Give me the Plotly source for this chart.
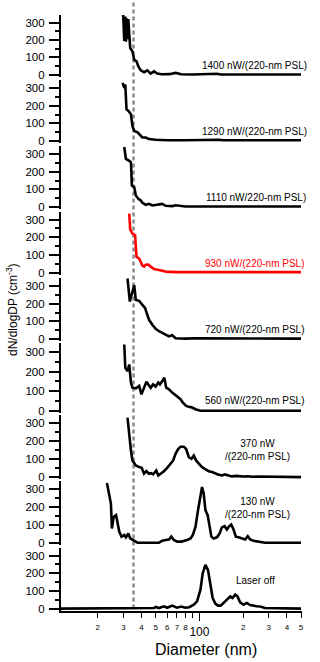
import plotly.graph_objects as go

W, H = 320, 662
FONT = "Liberation Sans, Arial, sans-serif"

# ---------------- data ----------------
panel_labels = [
    "1400 nW/(220-nm PSL)", "1290 nW/(220-nm PSL)", "1110 nW/220-nm PSL)",
    "930 nW/(220-nm PSL)", "720 nW/(220-nm PSL)", "560 nW/(220-nm PSL)",
    "370 nW<br>/(220-nm PSL)", "130 nW<br>/(220-nm PSL)", "Laser off",
]

diam_1400 = [29.9, 30.4, 30.9, 31.2, 31.6, 32.0, 32.4, 32.9, 33.4, 34.6, 35.6, 36.9, 38.0, 39.5,
             41.6, 43.8, 46.2, 48.7, 51.3, 55.0, 62.0, 68.5, 75.0, 90.0, 131.9, 140.0, 500.0]
dn_1400 = [344, 195, 335, 190, 325, 205, 320, 220, 154, 135, 87, 78, 49, 26,
           15, 26, 7, 20, 7, 3, 4, 11, 3, 2, 6, 2, 2]

diam_1290 = [29.6, 30.4, 30.9, 31.5, 32.5, 33.8, 34.6, 35.6, 37.5, 38.9, 40.5, 42.7, 45.0, 50.0,
             60.0, 80.0, 107.0, 115.0, 135.5, 145.0, 500.0]
dn_1290 = [330, 302, 321, 179, 170, 151, 85, 57, 48, 32, 19, 19, 10, 6,
           3, 3, 6, 3, 6, 3, 3]

diam_1110 = [30.4, 31.2, 32.9, 33.8, 34.3, 35.6, 36.5, 38.0, 39.5, 40.5, 42.7, 45.0, 47.4, 50.5,
             55.5, 58.6, 65.0, 68.5, 80.0, 500.0]
dn_1110 = [340, 272, 262, 253, 122, 113, 65, 47, 37, 24, 13, 18, 9, 12,
           18, 7, 5, 10, 3, 3]

diam_930 = [32.9, 33.4, 34.6, 36.1, 36.9, 38.5, 40.5, 41.6, 42.7, 44.5, 46.2, 48.7, 52.7, 58.6,
            70.0, 500.0]
dn_930 = [334, 245, 221, 212, 90, 80, 40, 34, 45, 46, 34, 20, 15, 6,
          3, 3]

diam_720 = [32.0, 33.2, 35.6, 36.5, 38.5, 40.5, 42.3, 43.4, 45.0, 47.4, 50.0, 52.7, 55.5, 57.0,
            61.7, 65.0, 68.5, 80.0, 89.0, 92.0, 95.0, 500.0]
dn_720 = [345, 213, 307, 222, 217, 194, 175, 147, 109, 81, 58, 44, 34, 28,
          15, 21, 4, 2, 5, 2, 4, 2]

diam_560 = [30.4, 30.9, 32.0, 32.9, 33.8, 34.6, 36.5, 38.5, 39.9, 41.6, 43.2, 44.5, 46.2, 48.0,
            50.0, 52.1, 53.5, 55.5, 57.3, 59.1, 61.7, 65.0, 67.8, 70.7, 74.1, 76.9, 81.0, 85.4,
            89.0, 93.9, 98.9, 101.6, 500.0]
dn_560 = [339, 220, 203, 237, 144, 118, 115, 127, 84, 118, 149, 135, 118, 135,
          124, 144, 135, 152, 169, 118, 110, 93, 81, 68, 59, 42, 25, 20,
          17, 8, 3, 0, 0]

diam_370 = [32.0, 32.9, 33.8, 34.6, 36.5, 38.5, 40.1, 41.6, 43.2, 45.0, 46.5, 48.0, 50.5, 52.1,
            54.1, 57.0, 60.0, 63.4, 66.0, 68.5, 71.4, 74.1, 78.1, 81.0, 84.5, 88.2, 91.4, 94.8,
            98.9, 103.2, 108.7, 115.8, 121.9, 128.6, 134.0, 142.7, 150.0, 158.6, 167.0, 180.0,
            200.0, 215.0, 230.0, 250.0, 500.0]
dn_370 = [333, 222, 148, 93, 65, 56, 52, 19, 33, 19, 22, 15, 37, 9,
          19, 33, 52, 74, 93, 130, 157, 170, 170, 157, 111, 102, 120, 93,
          74, 59, 46, 33, 28, 19, 15, 9, 15, 9, 4, 7,
          3, 5, 2, 3, 0]

diam_130 = [23.1, 24.0, 24.6, 25.0, 25.7, 26.7, 27.3, 28.1, 29.1, 30.4, 31.2, 32.4, 33.4, 34.6,
            36.1, 37.5, 52.7, 55.5, 58.6, 61.7, 64.0, 66.7, 70.3, 75.0, 82.3, 86.8, 90.0, 93.9,
            97.8, 101.6, 104.2, 107.0, 109.9, 113.9, 117.0, 120.8, 125.2, 131.9, 137.7, 142.7,
            148.9, 154.4, 160.3, 165.4, 171.6, 177.9, 185.6, 195.5, 206.3, 214.9, 223.2, 235.1,
            261.2, 282.5, 500.0]
dn_130 = [335, 257, 220, 80, 145, 155, 117, 61, 34, 43, 30, 52, 24, 18,
          11, 0, 0, 11, 15, 18, 34, 15, 6, 6, 15, 24, 43, 89,
          183, 275, 313, 275, 183, 155, 89, 34, 24, 30, 52, 86,
          93, 74, 93, 102, 74, 34, 30, 24, 18, 37, 18, 11,
          6, 0, 0]

diam_off = [11.0, 48.7, 50.0, 52.7, 57.0, 60.0, 65.0, 70.0, 75.0, 80.0, 85.0, 91.4, 96.3, 101.6,
            105.3, 109.9, 114.5, 118.9, 123.3, 128.6, 134.0, 140.0, 146.6, 154.4, 158.6, 162.9,
            168.9, 176.2, 182.7, 190.6, 200.9, 211.6, 223.2, 235.1, 247.6, 261.2, 282.5, 500.0]
dn_off = [0, 3, 9, 3, 13, 5, 17, 5, 12, 5, 8, 22, 41, 107,
          200, 248, 219, 144, 60, 28, 17, 17, 32, 51, 56, 69,
          60, 79, 69, 35, 22, 32, 20, 15, 13, 12, 3, 0]

marker_diameter_nm = 35.2

y_tick_vals = [0, 100, 200, 300]
y_minor_vals = [50, 150, 250]
x_small_tick_vals = [20, 30, 40, 50, 60, 70, 80, 200, 300, 400, 500]
x_small_tick_text = ["2", "3", "4", "5", "6", "7", "8", "2", "3", "4", "5"]
x_unlabeled_tick_vals = [90]
x_major_tick_vals = [100]
x_major_tick_text = ["100"]

series = [
    (diam_1400, dn_1400, "black"), (diam_1290, dn_1290, "black"), (diam_1110, dn_1110, "black"),
    (diam_930, dn_930, "#ff0000"), (diam_720, dn_720, "black"), (diam_560, dn_560, "black"),
    (diam_370, dn_370, "black"), (diam_130, dn_130, "black"), (diam_off, dn_off, "black"),
]

# ---------------- layout geometry (pixels) ----------------
zero_px = [75.3, 141.7, 208.3, 274.3, 341.0, 413.3, 480.0, 546.0, 612.3]
px_per_100 = [17.53, 17.67, 17.77, 17.77, 17.67, 19.67, 18.0, 17.9, 17.77]
Y_MIN, Y_MAX = -12, 345
x_left_px, x_right_px = 61.0, 303.5
px_at_100, px_per_decade = 200.7, 146.3
x_range = [2 + (x_left_px - px_at_100) / px_per_decade, 2 + (x_right_px - px_at_100) / px_per_decade]
x_domain = [x_left_px / W, x_right_px / W]

# label positions: (x px, y px, xanchor, color)
label_pos = [
    (311, 66, "right", "black"), (311, 132.3, "right", "black"), (310, 199, "right", "black"),
    (308.5, 265, "right", "#ff0000"), (309, 331, "right", "black"), (309, 403.3, "right", "black"),
    (259, 453, "center", "black"), (259, 511.5, "center", "black"), (257.5, 584.3, "center", "black"),
]

fig = go.Figure()
layout = {}
n_pan = len(series)
for k, (d, n, col) in enumerate(series, start=1):
    xs = "" if k == 1 else str(k)
    fig.add_trace(go.Scatter(
        x=d, y=n, mode="lines", line=dict(color=col, width=2.6),
        xaxis="x" + xs, yaxis="y" + xs, showlegend=False, hoverinfo="skip"))
    top = zero_px[k - 1] - Y_MAX * px_per_100[k - 1] / 100
    bot = zero_px[k - 1] - Y_MIN * px_per_100[k - 1] / 100
    ya = dict(domain=[1 - bot / H, 1 - top / H], range=[Y_MIN, Y_MAX], anchor="x" + xs,
              showline=True, linecolor="black", linewidth=1.5, ticks="outside",
              tickvals=y_tick_vals, ticklen=10, tickwidth=1.5, tickcolor="black",
              tickfont=dict(family=FONT, size=11.5, color="black"), ticklabelstandoff=2,
              minor=dict(tickvals=y_minor_vals, ticks="outside", ticklen=4, tickwidth=1.5,
                         tickcolor="black", showgrid=False),
              showgrid=False, zeroline=False, fixedrange=True)
    xa = dict(type="log", range=x_range, domain=x_domain, anchor="y" + xs,
              showgrid=False, zeroline=False, fixedrange=True)
    if k < n_pan:
        xa.update(visible=False)
    else:
        xa.update(showline=True, linecolor="black", linewidth=2, ticks="outside",
                  tickvals=x_small_tick_vals, ticktext=x_small_tick_text, ticklen=5,
                  tickwidth=1.2, tickcolor="black",
                  minor=dict(tickvals=x_unlabeled_tick_vals, ticks="outside", ticklen=5,
                             tickwidth=1.2, tickcolor="black", showgrid=False),
                  tickfont=dict(family=FONT, size=8, color="black"), ticklabelstandoff=3)
    layout["xaxis" + xs] = xa
    layout["yaxis" + xs] = ya

# overlay axis carrying the long "100" tick
ov = str(n_pan + 1)
layout["xaxis" + ov] = dict(type="log", range=x_range, domain=x_domain, anchor="y" + str(n_pan),
                            overlaying="x" + str(n_pan), side="bottom", showline=False,
                            ticks="outside", tickvals=x_major_tick_vals, ticktext=x_major_tick_text,
                            ticklen=9, tickwidth=1.2, tickcolor="black",
                            tickfont=dict(family=FONT, size=12, color="black"),
                            ticklabelstandoff=1, showgrid=False, zeroline=False, fixedrange=True)
fig.add_trace(go.Scatter(x=[], y=[], xaxis="x" + ov, yaxis="y" + str(n_pan),
                         showlegend=False, hoverinfo="skip"))

annotations = []
for text, (xp, yp, anc, col) in zip(panel_labels, label_pos):
    annotations.append(dict(text=text, x=xp / W, y=1 - yp / H, xref="paper", yref="paper",
                            xanchor=anc, yanchor="middle", align="center", showarrow=False,
                            font=dict(family=FONT, size=10, color=col)))
annotations.append(dict(text="dN/dlogDP (cm<sup>-3</sup>)", x=12 / W, y=1 - 311 / H,
                        xref="paper", yref="paper", textangle=-90, showarrow=False,
                        xanchor="center", yanchor="middle",
                        font=dict(family=FONT, size=12, color="black")))
annotations.append(dict(text="Diameter (nm)", x=207 / W, y=1 - 653 / H,
                        xref="paper", yref="paper", showarrow=False,
                        xanchor="center", yanchor="middle",
                        font=dict(family=FONT, size=16, color="black")))

shapes = [dict(type="line", xref="x" + str(n_pan), yref="paper",
               x0=marker_diameter_nm, x1=marker_diameter_nm,
               y0=1 - zero_px[-1] / H, y1=1,
               line=dict(color="#8a8a8a", width=2.5, dash="4px,3px"), layer="below")]

fig.update_layout(**layout)
fig.update_layout(width=W, height=H, autosize=False,
                  margin=dict(l=0, r=0, t=0, b=0, pad=0),
                  paper_bgcolor="white", plot_bgcolor="rgba(0,0,0,0)",
                  annotations=annotations, shapes=shapes, showlegend=False,
                  font=dict(family=FONT, color="black"))
fig.write_html("out.html", include_plotlyjs=True, config={"displayModeBar": False},
               post_script="document.body.style.margin='0px';document.body.style.overflow='hidden';")
